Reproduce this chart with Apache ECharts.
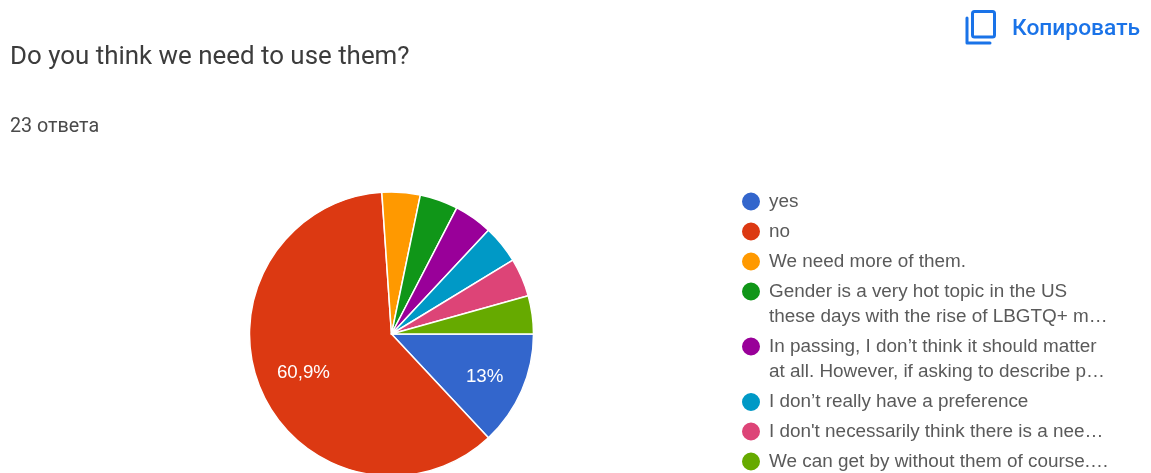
<!DOCTYPE html>
<html>
<head>
<meta charset="utf-8">
<style>html,body{margin:0;padding:0;background:#fff}#chart{width:1151px;height:473px}</style>
<script src="https://cdn.jsdelivr.net/npm/echarts@6/dist/echarts.min.js"></script>
</head>
<body>
<div id="chart"></div>
<script>
const questionTitle = 'Do you think we need to use them?';
const answerCount = '23 ответа';
const copyLabel = 'Копировать';

// Answer names, their legend wording and response counts, in clockwise order.
const answers = [
  'yes', 'no', 'We need more of them.', 'Gender is a very hot topic',
  'In passing', 'I don’t really have a preference',
  'I don\'t necessarily think', 'We can get by without them'
];
const legendLines = [
  ['yes'],
  ['no'],
  ['We need more of them.'],
  ['Gender is a very hot topic in the US', 'these days with the rise of LBGTQ+ m…'],
  ['In passing, I don’t think it should matter', 'at all. However, if asking to describe p…'],
  ['I don’t really have a preference'],
  ['I don\'t necessarily think there is a nee…'],
  ['We can get by without them of course.…']
];
const responses = [3, 14, 1, 1, 1, 1, 1, 1];
const sliceColors = ['#3366cc', '#dc3912', '#ff9900', '#109618', '#990099', '#0099c6', '#dd4477', '#66aa00'];
const legendRowCenters = [201.5, 231.5, 261.5, 291.5, 346.5, 402, 431.5, 461.5];

const uiFont = 'Roboto, sans-serif';
const chartFont = '"Liberation Sans", Arial, sans-serif';
const pieCenter = [391.5, 334];
const pieRadius = 142;
const dotSize = 20;
const lineStep = 25;

const seriesData = answers.map((name, i) => ({
  name, value: responses[i], itemStyle: { color: sliceColors[i] }
}));

// Share of all responses, written with a decimal comma; slices under 5% stay unlabelled.
function shareLabel(params) {
  if (params.percent < 5) return '';
  return parseFloat(params.percent.toFixed(1)).toString().replace('.', ',') + '%';
}

// One legend per answer. Blank lines above a wrapped name centre the block on its
// first line, so the dot stays level with that line.
const legends = answers.map((name, i) => {
  const extra = legendLines[i].length - 1;
  return {
    data: [name],
    left: 740,
    top: legendRowCenters[i] - lineStep * (2 * extra + 1) / 2,
    orient: 'vertical',
    padding: 0,
    icon: 'circle',
    itemWidth: dotSize,
    itemHeight: dotSize,
    selectedMode: false,
    formatter: () => '\n'.repeat(extra) + legendLines[i].join('\n'),
    textStyle: {
      fontFamily: chartFont,
      fontSize: 18.9,
      color: '#5a5a5a',
      lineHeight: lineStep,
      padding: [0, 0, 0, 3]
    }
  };
});

const chart = echarts.init(document.getElementById('chart'), null, { renderer: 'canvas' });
chart.setOption({
  animation: false,
  backgroundColor: '#fff',
  title: [
    {
      text: questionTitle, left: 10, top: 45, padding: 0,
      textStyle: { fontFamily: uiFont, fontSize: 25.9, fontWeight: 400, color: '#3c3c3c' }
    },
    {
      text: answerCount, left: 10, top: 117, padding: 0,
      textStyle: { fontFamily: uiFont, fontSize: 19.7, fontWeight: 400, color: '#4a4a4a' }
    }
  ],
  legend: legends,
  series: [
    {
      type: 'pie',
      center: pieCenter,
      radius: pieRadius,
      startAngle: 0,
      clockwise: true,
      minAngle: 0,
      silent: true,
      data: seriesData,
      label: { show: false },
      labelLine: { show: false },
      itemStyle: { borderColor: '#fff', borderWidth: 1.5 }
    },
    {
      // Transparent ring that places the share labels at about 70% of the radius.
      type: 'pie',
      center: pieCenter,
      radius: [55, pieRadius],
      startAngle: 0,
      clockwise: true,
      silent: true,
      legendHoverLink: false,
      data: answers.map((name, i) => ({
        name: name + ' ', value: responses[i], itemStyle: { color: 'transparent' }
      })),
      label: {
        show: true,
        position: 'inside',
        formatter: shareLabel,
        fontFamily: chartFont,
        fontSize: 18.7,
        color: '#fff'
      },
      labelLayout: (params) => (params.dataIndex === 1 ? { dx: 5, dy: -2 } : { dy: 2 }),
      labelLine: { show: false }
    }
  ],
  graphic: [
    {
      type: 'rect',
      shape: { x: 972.5, y: 11.5, width: 22, height: 25.5, r: 2 },
      style: { fill: 'none', stroke: '#1a73e8', lineWidth: 3 }
    },
    {
      type: 'polyline',
      shape: { points: [[967, 18], [967, 43], [990, 43]] },
      style: { fill: 'none', stroke: '#1a73e8', lineWidth: 3, lineCap: 'round', lineJoin: 'round' }
    },
    {
      type: 'text',
      left: 1012,
      top: 18,
      style: { text: copyLabel, fontFamily: uiFont, fontSize: 22.8, fontWeight: 500, fill: '#1a73e8' }
    }
  ]
});
</script>
</body>
</html>
